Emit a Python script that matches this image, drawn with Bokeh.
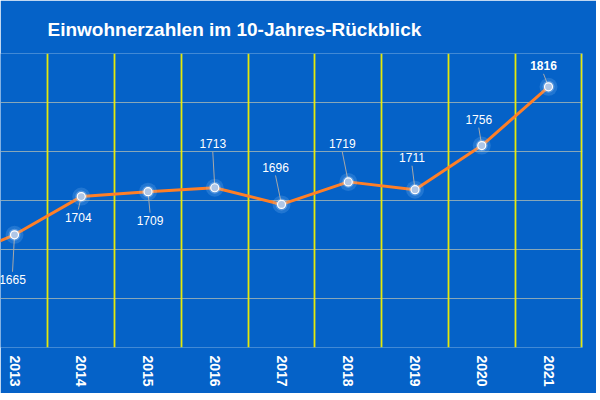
from bokeh.plotting import figure
from bokeh.models import FixedTicker, Grid, ColumnDataSource, Range1d
from bokeh.core.properties import value
from bokeh.embed import file_html
from bokeh.resources import INLINE

# ---- data ----
years = [2012, 2013, 2014, 2015, 2016, 2017, 2018, 2019, 2020, 2021]
population = [1636, 1665, 1704, 1709, 1713, 1696, 1719, 1711, 1756, 1816]
labels = ["", "1665", "1704", "1709", "1713", "1696", "1719", "1711", "1756", "1816"]
# label offsets in screen pixels (dx right, dy down)
label_dx = [0, -2, -3, 2, -2, -6, -6, -3, -3, -5]
label_dy = [40, 45, 21, 29, -44, -37, -38, -32, -26, -21]
label_bold = [False] * 9 + [True]
y_ticks = [1550, 1600, 1650, 1700, 1750, 1800, 1850]
title_text = "Einwohnerzahlen im 10-Jahres-Rückblick"

BG = "#0562C8"
PX_PER_YEAR = 66.75
PX_PER_UNIT = 0.98

p = figure(width=596, height=393, output_backend="svg", toolbar_location=None,
           x_range=Range1d(2012.79, 2021.509), y_range=Range1d(1550, 1850),
           y_axis_location=None, min_border_left=0, min_border_right=14,
           min_border_top=53, min_border_bottom=46, title=title_text)
p.background_fill_color = BG
p.border_fill_color = BG
p.outline_line_color = None
p.grid.visible = False

p.title.text_color = "white"
p.title.text_font = "Liberation Sans"
p.title.text_font_style = "bold"
p.title.text_font_size = "19px"
p.title.align = "left"
p.title.offset = 47
p.title.standoff = 28

# grids
hgrid = Grid(dimension=1, ticker=FixedTicker(ticks=y_ticks),
             grid_line_color="#C0C4B0", grid_line_alpha=0.7, grid_line_width=1)
vgrid = Grid(dimension=0, ticker=FixedTicker(ticks=[y + 0.5 for y in years]),
             grid_line_color="#F0F000", grid_line_alpha=0.95, grid_line_width=1.8)
p.add_layout(hgrid)
p.add_layout(vgrid)

# x axis
ax = p.xaxis[0]
ax.ticker = FixedTicker(ticks=years)
ax.axis_line_color = None
ax.major_tick_line_color = None
ax.minor_tick_line_color = None
ax.major_label_orientation = "vertical"
ax.major_label_text_color = "white"
ax.major_label_text_font = "Liberation Sans"
ax.major_label_text_font_style = "bold"
ax.major_label_text_font_size = "14px"
ax.major_label_standoff = 2

# label positions
lx = [y + dx / PX_PER_YEAR for y, dx in zip(years, label_dx)]
ly = [v - dy / PX_PER_UNIT for v, dy in zip(population, label_dy)]
ey = [v - (dy - (8 if dy > 0 else -8)) / PX_PER_UNIT for v, dy in zip(population, label_dy)]

src = ColumnDataSource(dict(x=years, y=population, lx=lx, ly=ly, ey=ey, t=labels,
                            style=["bold" if b else "normal" for b in label_bold]))
lead = ColumnDataSource(dict(x=years[1:], y=population[1:], lx=lx[1:], ey=ey[1:]))

p.segment(x0="x", y0="y", x1="lx", y1="ey", source=lead, line_color="#A8A8A8", line_width=1)
p.line("x", "y", source=src, line_color="#FF7F27", line_width=3)
p.scatter("x", "y", source=src, size=18, fill_color="#9FD0FF", fill_alpha=0.18, line_color=None)
p.scatter("x", "y", source=src, size=12, fill_color="#CFE6FF", fill_alpha=0.3, line_color=None)
p.scatter("x", "y", source=src, size=8, fill_color="#AFC6E6", line_color="white", line_width=1.2)
p.text("lx", "ly", text="t", source=src, text_color="white", text_font=value("Liberation Sans"),
       text_font_size="12px", text_font_style="style", text_align="center", text_baseline="middle")

open("out.html", "w").write(file_html(p, INLINE))
